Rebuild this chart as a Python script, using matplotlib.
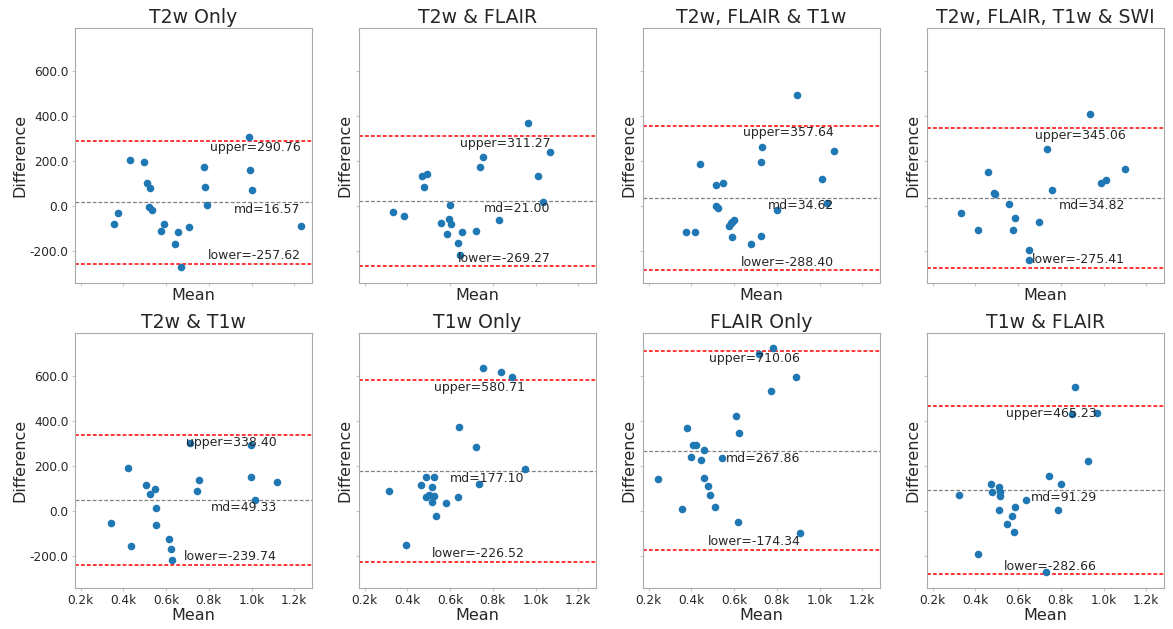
import numpy as np
import matplotlib as mpl
mpl.use('agg')
import matplotlib.pyplot as plt
from matplotlib.ticker import FuncFormatter

# Bland-Altman panels, values
titles = ['T2w Only', 'T2w & FLAIR', 'T2w, FLAIR & T1w', 'T2w, FLAIR, T1w & SWI',
          'T2w & T1w', 'T1w Only', 'FLAIR Only', 'T1w & FLAIR']

md_vals = [16.57, 21.00, 34.62, 34.82, 49.33, 177.10, 267.86, 91.29]
upper_vals = [290.76, 311.27, 357.64, 345.06, 338.40, 580.71, 710.06, 465.23]
lower_vals = [-257.62, -269.27, -288.40, -275.41, -239.74, -226.52, -174.34, -282.66]

mean_t2 = [354, 375, 432, 498, 512, 524, 521, 532, 578, 592, 640, 654, 668, 709,
           779, 782, 790, 989, 993, 1003, 1230]
diff_t2 = [-81.8, -31.2, 203.7, 194.8, 99.6, 80.3, -7.4, -20.8, -114.5, -81.8, -169.5,
           -119, -272, -93.7, 171, 81.8, 3, 307.8, 159, 70, -89.2]

mean_t2_fl = [334, 384, 470, 493, 479, 598, 557, 596, 604, 585, 657, 638, 648, 720,
              738, 755, 827, 963, 1010, 1033, 1069]
diff_t2_fl = [-29.7, -46.1, 132.3, 142.8, 84.8, 3, -78.8, -59.5, -81.8, -126.4, -119,
              -166.5, -221.6, -113, 174, 215.6, -64, 367.3, 130.9, 16.4, 237.9]

mean_t2_fl_t1 = [375, 418, 442, 517, 546, 517, 523, 576, 585, 592, 601, 590, 679, 727,
                 730, 727, 801, 896, 1013, 1035, 1066]
diff_t2_fl_t1 = [-119, -119, 187.4, 93.7, 102.6, 0, -11.9, -89.2, -78.8, -71.4, -65.4,
                 -141.3, -172.5, -133.8, 261.7, 196.3, -17.8, 495.2, 117.5, 10.4, 243.9]

mean_all = [331, 412, 459, 487, 492, 559, 585, 574, 649, 652, 696, 734, 757, 938, 986,
            1011, 1102]
diff_all = [-34.2, -108.6, 148.7, 58, 52, 6, -55, -108.6, -197.8, -242.4, -74.3, 252.8,
            69.9, 410.4, 102.6, 116, 165]

mean_t2_t1 = [344, 423, 437, 504, 526, 548, 551, 551, 615, 621, 628, 712, 746, 754,
              997, 996, 1016, 1120]
diff_t2_t1 = [-56.5, 190.3, -157.6, 113, 75.8, 95.2, 11.9, -62.5, -127.9, -172.5, -220,
              300.4, 89.2, 138.3, 294.4, 151.7, 46.1, 127.9]

mean_t1 = [315, 395, 465, 487, 523, 515, 489, 501, 523, 517, 532, 579, 635, 641, 723,
           735, 755, 836, 889, 949]
diff_t1 = [89.2, -151.7, 116, 148.7, 148.7, 104, 61, 70, 65.4, 40.1, -23.8, 32.7, 59.5,
           371.7, 285.5, 117.5, 635, 620, 596.3, 185.9]

mean_fl = [244, 354, 379, 397, 406, 422, 447, 461, 461, 479, 486, 509, 545, 610, 621,
           618, 718, 780, 771, 891, 910]
diff_fl = [142.8, 8.9, 370.3, 239.4, 292.9, 294.4, 227.5, 270.6, 147.2, 110, 69.9, 17.8,
           234.9, 423.8, 345, -49, 700.4, 727.1, 533.8, 594.8, -99.6]

mean_t1_fl = [322, 411, 475, 478, 510, 514, 517, 512, 546, 573, 585, 581, 635, 729, 743,
              788, 801, 854, 868, 929, 969]
diff_t1_fl = [71.4, -191.8, 117.5, 81.8, 105.6, 84.8, 66.9, 4.5, -58, -22.3, 16.4, -96.7,
              49.1, -272.1, 154.6, 4.5, 119, 431.2, 551.7, 221.6, 434.2]

means = [mean_t2, mean_t2_fl, mean_t2_fl_t1, mean_all, mean_t2_t1, mean_t1, mean_fl, mean_t1_fl]
diffs = [diff_t2, diff_t2_fl, diff_t2_fl_t1, diff_all, diff_t2_t1, diff_t1, diff_fl, diff_t1_fl]

txtcol = '#262626'
plt.rcParams['font.family'] = 'DejaVu Sans'
plt.rcParams['text.color'] = txtcol
plt.rcParams['axes.labelcolor'] = txtcol
plt.rcParams['xtick.color'] = '#c8c8c8'
plt.rcParams['ytick.color'] = '#c8c8c8'
plt.rcParams['xtick.labelcolor'] = txtcol
plt.rcParams['ytick.labelcolor'] = txtcol

fig, axes = plt.subplots(2, 4, figsize=(11.73, 6.29), dpi=100, sharex=True, sharey=True)
fig.subplots_adjust(left=0.0639, right=0.9923, top=0.955, bottom=0.0657,
                    wspace=0.198, hspace=0.199)

for i, ax in enumerate(axes.flat):
    m = np.array(means[i])
    d = np.array(diffs[i])
    ax.scatter(m, d, s=30, color='#1f77b4', linewidth=0, zorder=3)
    ax.axhline(md_vals[i], color='gray', linestyle=(0, (3, 1.6)), linewidth=0.9)
    ax.axhline(upper_vals[i], color='red', linestyle=(0, (2.5, 1.4)), linewidth=1.1)
    ax.axhline(lower_vals[i], color='red', linestyle=(0, (2.5, 1.4)), linewidth=1.1)
    xr = m.max()
    ax.text(xr, upper_vals[i] - 4, 'upper=%.2f' % upper_vals[i], ha='right', va='top', fontsize=9)
    ax.text(xr, md_vals[i] - 4, 'md=%.2f' % md_vals[i], ha='right', va='top', fontsize=9)
    ax.text(xr, lower_vals[i] + 6, 'lower=%.2f' % lower_vals[i], ha='right', va='bottom', fontsize=9)
    ax.set_title(titles[i], fontsize=13.6, pad=4)
    ax.set_xlabel('Mean', fontsize=11.5, labelpad=1)
    ax.set_ylabel('Difference', fontsize=11.5, labelpad=2)
    for sp in ax.spines.values():
        sp.set_color('#aaaaaa')
    ax.tick_params(labelsize=8.7, length=2.5, width=0.8, pad=2)

ax = axes[0, 0]
ax.set_xlim(173, 1283)
ax.set_ylim(-343, 791)
ax.set_xticks([200, 400, 600, 800, 1000, 1200])
ax.set_yticks([-200, 0, 200, 400, 600])
ax.xaxis.set_major_formatter(FuncFormatter(lambda v, p: '%.1fk' % (v / 1000)))
ax.yaxis.set_major_formatter(FuncFormatter(lambda v, p: '%.1f' % v))

fig.savefig('out.png', format='png', dpi=100)
